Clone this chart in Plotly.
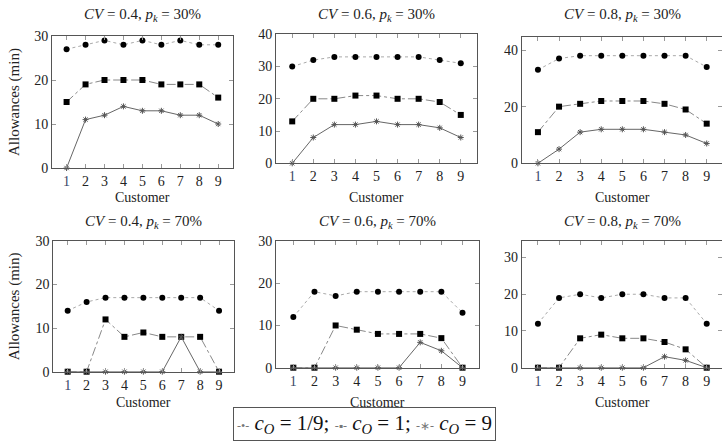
import plotly.graph_objects as go

customers = [1, 2, 3, 4, 5, 6, 7, 8, 9]

titles = [
    "<i>CV</i> = 0.4, <i>p</i><sub><i>k</i></sub> = 30%",
    "<i>CV</i> = 0.6, <i>p</i><sub><i>k</i></sub> = 30%",
    "<i>CV</i> = 0.8, <i>p</i><sub><i>k</i></sub> = 30%",
    "<i>CV</i> = 0.4, <i>p</i><sub><i>k</i></sub> = 70%",
    "<i>CV</i> = 0.6, <i>p</i><sub><i>k</i></sub> = 70%",
    "<i>CV</i> = 0.8, <i>p</i><sub><i>k</i></sub> = 70%",
]

# c_O = 1/9 (circles)
co_1_9 = [
    [27, 28, 29, 28, 29, 28, 29, 28, 28],
    [30, 32, 33, 33, 33, 33, 33, 32, 31],
    [33, 37, 38, 38, 38, 38, 38, 38, 34],
    [14, 16, 17, 17, 17, 17, 17, 17, 14],
    [12, 18, 17, 18, 18, 18, 18, 18, 13],
    [12, 19, 20, 19, 20, 20, 19, 19, 12],
]
# c_O = 1 (squares)
co_1 = [
    [15, 19, 20, 20, 20, 19, 19, 19, 16],
    [13, 20, 20, 21, 21, 20, 20, 19, 15],
    [11, 20, 21, 22, 22, 22, 21, 19, 14],
    [0, 0, 12, 8, 9, 8, 8, 8, 0],
    [0, 0, 10, 9, 8, 8, 8, 7, 0],
    [0, 0, 8, 9, 8, 8, 7, 5, 0],
]
# c_O = 9 (stars)
co_9 = [
    [0, 11, 12, 14, 13, 13, 12, 12, 10],
    [0, 8, 12, 12, 13, 12, 12, 11, 8],
    [0, 5, 11, 12, 12, 12, 11, 10, 7],
    [0, 0, 0, 0, 0, 0, 8, 0, 0],
    [0, 0, 0, 0, 0, 0, 6, 4, 0],
    [0, 0, 0, 0, 0, 0, 3, 2, 0],
]

y_ranges = [[0, 30], [0, 40], [0, 44.7], [0, 30], [0, 30], [0, 34.5]]
y_ticks = [[0, 10, 20, 30], [0, 10, 20, 30, 40], [0, 20, 40],
           [0, 10, 20, 30], [0, 10, 20, 30], [0, 10, 20, 30]]

W, H = 722, 441
# pixel boxes: (left, right, top, bottom)
boxes = [
    (52, 233, 36, 168),
    (276, 477, 34.3, 163.3),
    (521.7, 722, 36.7, 163.3),
    (53.3, 234, 241, 371.7),
    (276, 479, 241, 367.7),
    (521.7, 722, 241, 367.7),
]
x_ranges = [[0.23, 9.78], [0.23, 9.77], [0.23, 9.725],
            [0.24, 9.79], [0.18, 9.78], [0.23, 9.725]]

FONT = "Liberation Serif, Times New Roman, serif"
TXT = "#222222"
fig = go.Figure()

ticktext = ["<span style='color:#3a4668'>1</span>"] + [str(c) for c in customers[1:]]

for i in range(6):
    ax = "" if i == 0 else str(i + 1)
    xa, ya = "x" + ax, "y" + ax
    fig.add_trace(go.Scatter(
        x=customers, y=co_1_9[i], mode="lines+markers", xaxis=xa, yaxis=ya,
        name="c_O = 1/9", showlegend=False,
        line=dict(color="#aaaaaa", width=1, dash="dot"),
        marker=dict(symbol="circle", size=6, color="black"), cliponaxis=False))
    fig.add_trace(go.Scatter(
        x=customers, y=co_1[i], mode="lines+markers", xaxis=xa, yaxis=ya,
        name="c_O = 1", showlegend=False,
        line=dict(color="#888888", width=1, dash="dashdot"),
        marker=dict(symbol="square", size=6, color="black"), cliponaxis=False))
    fig.add_trace(go.Scatter(
        x=customers, y=co_9[i], mode="lines+markers", xaxis=xa, yaxis=ya,
        name="c_O = 9", showlegend=False,
        line=dict(color="#666666", width=1),
        marker=dict(symbol="asterisk-open", size=5, color="#555555",
                    line=dict(color="#555555", width=1)), cliponaxis=False))

    l, r, t, b = boxes[i]
    xaxis = dict(domain=[l / W, r / W], range=x_ranges[i], anchor=ya, automargin=False,
                 tickmode="array", tickvals=customers, ticktext=ticktext, ticks="inside", ticklen=4,
                 tickcolor="#999999", showline=True, linecolor="#555555", linewidth=1,
                 mirror="ticks", showgrid=False, zeroline=False,
                 tickfont=dict(family=FONT, size=14, color=TXT))
    yaxis = dict(domain=[1 - b / H, 1 - t / H], range=y_ranges[i], anchor=xa, automargin=False,
                 tickmode="array", tickvals=y_ticks[i], ticks="inside", ticklen=4, tickcolor="#999999",
                 showline=True, linecolor="#555555", linewidth=1, mirror="ticks",
                 showgrid=False, zeroline=False,
                 tickfont=dict(family=FONT, size=14, color=TXT))
    fig.layout["xaxis" + ax] = xaxis
    fig.layout["yaxis" + ax] = yaxis

    cx = (l + r) / 2 if i not in (2, 5) else (l + 723) / 2
    ty = 15 if i < 3 else 222
    fig.add_annotation(x=cx / W, y=1 - ty / H, xref="paper", yref="paper",
                       text=titles[i], showarrow=False, xanchor="center", yanchor="middle",
                       font=dict(family=FONT, size=15, color=TXT))
    xt = 197 if i < 3 else 402
    fig.add_annotation(x=cx / W, y=1 - xt / H, xref="paper", yref="paper",
                       text="Customer", showarrow=False, xanchor="center", yanchor="middle",
                       font=dict(family=FONT, size=14, color=TXT))
    if i in (0, 3):
        fig.add_annotation(x=14 / W, y=1 - ((t + b) / 2) / H, xref="paper", yref="paper",
                           text="Allowances (min)", showarrow=False, textangle=-90,
                           xanchor="center", yanchor="middle",
                           font=dict(family=FONT, size=15, color=TXT))

sample = "<span style='font-size:12px;color:#777777'>-•-</span>"
legend_text = (sample + " <i>c</i><sub><i>O</i></sub>&nbsp;=&nbsp;1/9; "
               + sample.replace("•", "▪") + " <i>c</i><sub><i>O</i></sub>&nbsp;=&nbsp;1; "
               + sample.replace("•", "∗") + " <i>c</i><sub><i>O</i></sub>&nbsp;=&nbsp;9")
fig.add_annotation(x=365 / W, y=1 - 424 / H, xref="paper", yref="paper",
                   text=legend_text, showarrow=False, xanchor="center", yanchor="middle",
                   bordercolor="#555555", borderwidth=1, borderpad=3, bgcolor="white",
                   font=dict(family=FONT, size=21, color="#111111"))

fig.update_layout(
    template="none",
    width=W, height=H, margin=dict(l=0, r=0, t=0, b=0, autoexpand=False),
    paper_bgcolor="white", plot_bgcolor="white",
    font=dict(family=FONT, color=TXT),
    showlegend=False,
)

fig.write_html("out.html", config={"displayModeBar": False},
               post_script="document.body.style.margin='0';document.body.style.overflow='hidden';")
